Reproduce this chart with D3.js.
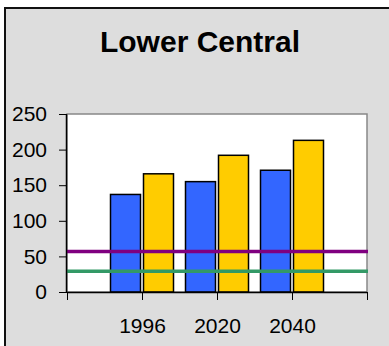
<!DOCTYPE html>
<html>
<head>
<meta charset="utf-8">
<script src="https://d3js.org/d3.v7.min.js"></script>
<style>
    body { margin: 0; background: #fff; }
    text { font-family: "Liberation Sans", Arial, sans-serif; }
</style>
</head>
<body>
<svg id="chart"></svg>
<script>
    // data
    const years = ["1996", "2020", "2040"];
    const blueValues = [137, 155, 171];
    const yellowValues = [166, 192, 213];
    const purpleLevel = 57;
    const greenLevel = 29;
    const yTicks = [0, 50, 100, 150, 200, 250];

    const width = 389, height = 346;
    let svg = d3.select("svg#chart")
                .attr("width", width)
                .attr("height", height);

    // outer frame
    svg.append("rect")
       .attr("x", 5).attr("y", 8)
       .attr("width", 390).attr("height", 350)
       .attr("fill", "#dddddd")
       .attr("stroke", "#111")
       .attr("stroke-width", 2);

    svg.append("text")
       .attr("x", 200).attr("y", 52)
       .attr("text-anchor", "middle")
       .attr("font-size", 30)
       .attr("font-weight", "bold")
       .text("Lower Central");

    const plot = {left: 67, right: 367, top: 114, bottom: 292};

    // scales
    const x = d3.scaleLinear().domain([0, 4]).range([plot.left, plot.right]);
    const y = d3.scaleLinear().domain([0, 250]).range([plot.bottom, plot.top]);

    svg.append("rect")
       .attr("x", plot.left).attr("y", plot.top)
       .attr("width", plot.right - plot.left).attr("height", plot.bottom - plot.top)
       .attr("fill", "#fff")
       .attr("stroke", "#888")
       .attr("stroke-width", 1.5);

    // bars
    const barW = 30;
    let groups = svg.append("g").selectAll("g")
                    .data(years)
                    .join("g");
    groups.append("rect")
          .attr("x", (d, i) => x(i + 1) - barW - 1.5)
          .attr("y", (d, i) => y(blueValues[i]))
          .attr("width", barW)
          .attr("height", (d, i) => y(0) - y(blueValues[i]))
          .attr("fill", "#3366ff")
          .attr("stroke", "#000")
          .attr("stroke-width", 1.5);
    groups.append("rect")
          .attr("x", (d, i) => x(i + 1) + 1.5)
          .attr("y", (d, i) => y(yellowValues[i]))
          .attr("width", barW)
          .attr("height", (d, i) => y(0) - y(yellowValues[i]))
          .attr("fill", "#ffcc00")
          .attr("stroke", "#000")
          .attr("stroke-width", 1.5);

    // reference lines
    svg.append("line")
       .attr("x1", plot.left).attr("x2", plot.right + 1)
       .attr("y1", y(purpleLevel)).attr("y2", y(purpleLevel))
       .attr("stroke", "#800080").attr("stroke-width", 3.5);
    svg.append("line")
       .attr("x1", plot.left).attr("x2", plot.right + 1)
       .attr("y1", y(greenLevel)).attr("y2", y(greenLevel))
       .attr("stroke", "#339966").attr("stroke-width", 3.5);

    // axes
    let leftAxis = d3.axisLeft(y).tickValues(yTicks).tickSize(8).tickPadding(12);
    let yAxis = svg.append("g")
                   .attr("transform", `translate(${plot.left}, 0)`)
                   .call(leftAxis);

    let botAxis = d3.axisBottom(x)
                    .tickValues([0, 1, 2, 3, 4])
                    .tickFormat(i => years[i - 1] || "")
                    .tickSize(8).tickPadding(18);
    let xAxis = svg.append("g")
                   .attr("transform", `translate(0, ${plot.bottom})`)
                   .call(botAxis);

    svg.selectAll(".domain").attr("stroke", "#000").attr("stroke-width", 1.5);
    svg.selectAll(".tick line").attr("stroke", "#000");
    svg.selectAll(".tick text")
       .attr("fill", "#000")
       .attr("font-size", 21)
       .attr("font-family", "Liberation Sans, Arial, sans-serif");
    yAxis.select(".domain").attr("d", `M${-0.5},${plot.top}V${plot.bottom}`);
    xAxis.select(".domain").attr("d", `M${plot.left},0.5H${plot.right}`);
</script>
</body>
</html>
